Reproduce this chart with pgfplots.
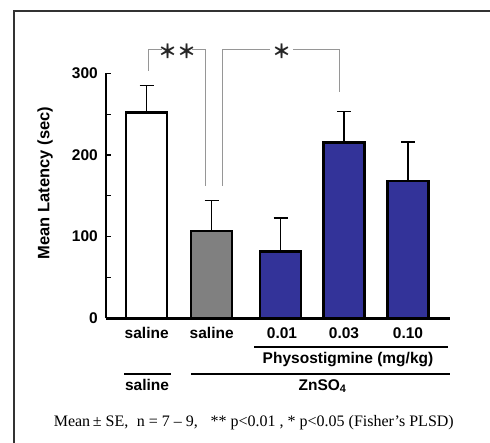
\documentclass[border=0pt]{standalone}
\usepackage{pgfplots}
\pgfplotsset{compat=1.18}
\usepackage{fontspec}
\setmainfont{Liberation Sans}
\newfontfamily\timesf{Liberation Serif}
\newfontfamily\cjk{Noto Sans CJK JP}
\definecolor{barblue}{RGB}{51,51,153}
\definecolor{bargray}{RGB}{128,128,128}
\definecolor{brk}{RGB}{150,150,150}
\begin{document}
\begin{tikzpicture}[x=1pt,y=1pt]
\useasboundingbox (0,0) rectangle (490,443);
\begin{axis}[at={(106pt,124.7pt)}, anchor=south west, scale only axis,
  width=344pt, height=245pt, xmin=106, xmax=450, ymin=0, ymax=300,
  axis x line=bottom, axis y line=left,
  axis line style={-, line width=2.5pt},
  xtick=\empty, ytick={0,100,200,300}, minor ytick={50,150,250},
  tick align=inside, major tick length=5pt, minor tick length=5pt,
  every tick/.style={black, line width=1.2pt},
  /pgf/number format/assume math mode=true,
  yticklabel style={font=\bfseries\fontsize{15.5}{18}\selectfont, inner sep=0pt, xshift=-8pt},
  clip=false,
  error bars/y dir=plus, error bars/y explicit,
  error bars/error bar style={line width=1.5pt, black},
  error bars/error mark options={rotate=90, line width=1.5pt, mark size=7pt, black},
]
\addplot[ybar, bar shift=0pt, bar width=41pt, fill=white, draw=black, line width=2.5pt,
  error bars/.cd, y dir=plus, y explicit] coordinates {(146.7,252) +- (0,33)};
\addplot[ybar, bar shift=0pt, bar width=41pt, fill=bargray, draw=black, line width=2.5pt,
  error bars/.cd, y dir=plus, y explicit] coordinates {(211.7,107) +- (0,37)};
\addplot[ybar, bar shift=0pt, bar width=41pt, fill=barblue, draw=black, line width=2.5pt,
  error bars/.cd, y dir=plus, y explicit] coordinates {(280.5,82) +- (0,41) (344,215) +- (0,38) (408,168) +- (0,48)};
\end{axis}
\node[rotate=90, font=\bfseries\fontsize{16.5}{18}\selectfont] at (45,260) {Mean Latency (sec)};
\begin{scope}[shift={(0,443)}, yscale=-1]
\draw[line width=1.5pt, black!80] (14,443) -- (14,11) -- (490,11);
\draw[brk, line width=1pt] (148.3,70.7) -- (148.3,50) -- (162,50);
\draw[brk, line width=1pt] (192,50) -- (205,50) -- (205,186);
\node[font=\cjk\bfseries\fontsize{19}{20}\selectfont, black!85, inner sep=0pt] at (177,51) {＊＊};
\draw[brk, line width=1pt] (222.7,186) -- (222.7,50) -- (270,50);
\draw[brk, line width=1pt] (293,50) -- (339.3,50) -- (339.3,92);
\node[font=\cjk\bfseries\fontsize{19}{20}\selectfont, black!85, inner sep=0pt] at (281.5,51) {＊};
\begin{scope}[every node/.style={font=\bfseries\fontsize{15.5}{18}\selectfont}]
\node at (146.7,333) {saline};
\node at (211.7,333) {saline};
\node at (282,333) {0.01};
\node at (344,333) {0.03};
\node at (408,333) {0.10};
\node at (348,360) {Physostigmine (mg/kg)};
\node at (147,385) {saline};
\node at (322.5,386) {ZnSO\textsubscript{4}};
\end{scope}
\draw[line width=2pt] (254,346.7) -- (448,346.7);
\draw[line width=2pt] (124,373.7) -- (170.7,373.7);
\draw[line width=2pt] (191,373.7) -- (450,373.7);
\node[font=\timesf\fontsize{16}{18}\selectfont] at (253.8,423) {Mean\,± SE,\; n = 7 – 9,\;\; ** p<0.01 , * p<0.05 (Fisher’s PLSD)};
\end{scope}
\end{tikzpicture}
\end{document}
